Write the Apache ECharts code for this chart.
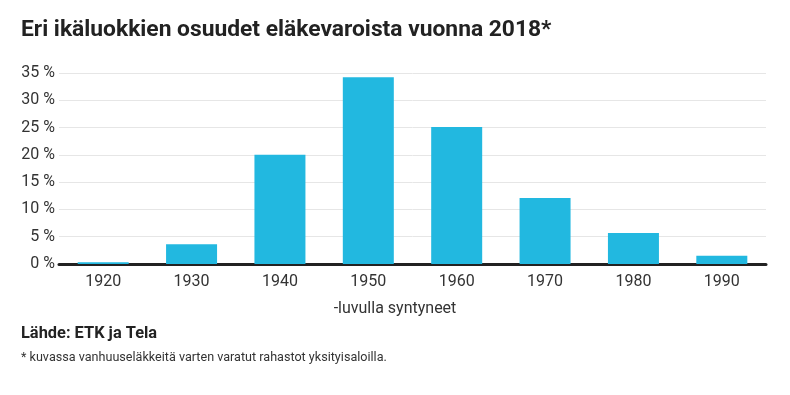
<!DOCTYPE html>
<html><head><meta charset="utf-8">
<script src="https://cdn.jsdelivr.net/npm/echarts@6/dist/echarts.min.js"></script>
<style>html,body{margin:0;padding:0;background:#fff}#c{width:790px;height:395px}</style>
</head><body><div id="c"></div>
<script>
const categories = ['1920','1930','1940','1950','1960','1970','1980','1990'];
const shares = [0.3, 3.6, 20.0, 34.2, 25.1, 12.1, 5.7, 1.5];
const yTicks = [0, 5, 10, 15, 20, 25, 30, 35];
const titleText = 'Eri ikäluokkien osuudet eläkevaroista vuonna 2018*';
const axisName = '-luvulla syntyneet';
const sourceText = 'Lähde: ETK ja Tela';
const noteText = '* kuvassa vanhuuseläkkeitä varten varatut rahastot yksityisaloilla.';

const font = 'Roboto, "Noto Sans", sans-serif';
const chart = echarts.init(document.getElementById('c'), null, {renderer: 'canvas'});
chart.setOption({
  backgroundColor: '#fff',
  animation: false,
  title: [
    {text: titleText, left: 16, top: 14, textStyle: {fontFamily: font, fontWeight: 'bold', fontSize: 22.8, color: '#222'}},
    {text: axisName, left: 'center', top: 296, textStyle: {fontFamily: font, fontWeight: 'normal', fontSize: 16, color: '#333'}},
    {text: sourceText, left: 16, top: 321, textStyle: {fontFamily: font, fontWeight: 'bold', fontSize: 16.4, color: '#222'}},
    {text: noteText, left: 16, top: 346, textStyle: {fontFamily: font, fontWeight: 'normal', fontSize: 12.6, color: '#333'}}
  ],
  grid: {left: 59, right: 24, top: 73, bottom: 131, containLabel: false},
  xAxis: {
    type: 'category', data: categories,
    axisLine: {lineStyle: {color: '#222', width: 3}},
    axisTick: {show: false},
    axisLabel: {fontFamily: font, fontSize: 16, color: '#333', margin: 10}
  },
  yAxis: {
    type: 'value', min: yTicks[0], max: yTicks[yTicks.length-1], interval: 5,
    axisLine: {show: false}, axisTick: {show: false},
    splitLine: {lineStyle: {color: '#e6e6e6', width: 1}},
    axisLabel: {fontFamily: font, fontSize: 16, color: '#333', margin: 4, formatter: v => v + ' %'}
  },
  series: [{
    type: 'bar', data: shares, barWidth: 51,
    itemStyle: {color: '#22b8e0'}
  }]
});
</script></body></html>
